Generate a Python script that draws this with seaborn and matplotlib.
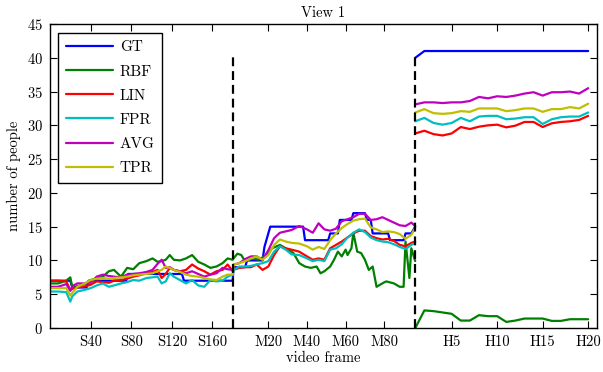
import numpy as np
import pandas as pd
import seaborn as sns
import matplotlib.pyplot as plt

# frame positions on the concatenated axis (S frames step 1, M and H are stretched)
M_OFF, M_STEP = 177.0, 1.904
H_OFF, H_STEP = 350.9, 8.966

def xs(f):
    return np.asarray(f, float)

def xm(m):
    return M_OFF + M_STEP * np.asarray(m, float)

def xh(h):
    return H_OFF + H_STEP * np.asarray(h, float)

# ---- data ----
s_frames = [1, 8, 16, 20, 22, 27, 33, 40, 46, 52, 58, 63, 70, 76, 82, 88, 95,
            101, 106, 110, 114, 118, 122, 128, 134, 140, 146, 152, 158, 164, 170, 175, 180]
m_frames = [2, 5, 8, 11, 14, 17, 20, 23, 26, 29, 32, 36, 40, 43, 46, 49, 52, 55,
            58, 61, 64, 67, 70, 73, 76, 79, 82, 85, 88, 91, 94, 96]
h_frames = list(range(1, 21))

gt_s_frames = [1, 20, 22, 36, 38, 75, 77, 130, 132, 180]
gt_s = [7, 7, 6, 6, 7, 7, 8, 8, 7, 7]
gt_m_frames = [2, 8, 9, 17, 18, 19, 21, 38, 39, 51, 52, 56, 57, 63, 64, 70, 71, 73,
               74, 82, 83, 90, 91, 94, 96]
gt_m = [9, 9, 10, 10, 12, 13, 15, 15, 13, 13, 14, 14, 16, 16, 17, 17, 16, 16,
        14, 14, 13, 13, 14, 14, 15]
gt_h = [40] + [41] * 19

rbf_s = [6.6, 6.6, 7.0, 7.5, 6.0, 6.2, 6.4, 7.1, 7.3, 7.6, 8.4, 8.6, 7.6, 8.9, 8.7, 9.6, 9.9,
         10.3, 9.8, 9.9, 10.1, 10.8, 10.1, 10.0, 10.3, 10.8, 9.8, 9.4, 8.9, 9.1, 9.6, 10.3, 10.1]
rbf_m_frames = [2, 4, 6, 8, 12, 15, 19, 22, 26, 29, 33, 36, 39, 42, 45, 47, 49, 52, 54, 56,
                58, 60, 61, 63, 64, 66, 68, 70, 72, 74, 76, 79, 81, 85, 88, 90, 91, 93, 94, 96]
rbf_m = [10.3, 11.0, 10.8, 9.9, 10.3, 10.1, 10.8, 11.8, 12.3, 11.8, 11.1, 9.6, 9.1, 8.9, 9.1,
         8.1, 8.4, 9.1, 10.1, 11.3, 10.6, 11.6, 10.8, 11.8, 14.1, 11.3, 11.1, 10.1, 8.6, 9.1,
         6.1, 6.6, 6.9, 6.6, 6.1, 6.1, 12.8, 7.4, 11.8, 9.9]
rbf_h = [0, 2.6, 2.5, 2.3, 2.1, 1.1, 1.1, 1.9, 1.75, 1.75, 0.9, 1.1, 1.4, 1.4, 1.4,
         1.05, 1.05, 1.3, 1.3, 1.3]

lin_s = [7.0, 7.0, 6.9, 5.6, 5.8, 6.0, 6.1, 6.4, 6.9, 6.8, 6.7, 7.0, 7.1, 7.3, 7.6, 7.8, 8.1,
         8.3, 8.6, 7.4, 8.0, 8.9, 8.6, 8.4, 8.6, 9.4, 8.8, 8.4, 7.9, 8.4, 8.6, 9.4, 8.4]
lin_m = [8.6, 8.9, 9.0, 9.0, 9.4, 8.6, 9.1, 10.8, 12.1, 11.8, 11.6, 11.3, 10.6, 10.1, 10.3,
         10.1, 11.8, 12.3, 12.8, 13.4, 14.0, 14.4, 14.4, 13.6, 13.3, 13.1, 13.2, 12.9, 12.3,
         12.1, 12.6, 12.8]
lin_h = [28.8, 29.2, 28.7, 28.5, 28.8, 29.75, 29.45, 29.8, 30.0, 30.1, 29.7, 29.95, 30.5,
         30.5, 29.75, 30.3, 30.5, 30.6, 30.8, 31.4]

fpr_s = [5.4, 5.4, 5.3, 3.9, 4.7, 5.4, 5.6, 5.9, 6.3, 6.6, 6.1, 6.3, 6.6, 6.8, 7.1, 7.0, 7.4,
         7.5, 7.6, 6.6, 6.9, 8.1, 7.6, 7.1, 6.6, 7.1, 6.3, 6.1, 7.1, 6.9, 7.0, 7.6, 7.9]
fpr_m = [8.6, 9.1, 9.1, 9.2, 9.4, 9.6, 9.9, 11.3, 12.1, 11.6, 10.9, 10.8, 10.3, 9.9, 10.1,
         9.9, 11.6, 11.8, 12.4, 13.4, 14.1, 14.6, 14.2, 13.4, 13.0, 12.8, 12.7, 12.4, 12.0,
         11.7, 12.3, 12.6]
fpr_h = [30.6, 31.1, 30.35, 30.1, 30.35, 31.1, 30.6, 31.3, 31.4, 31.4, 30.9, 31.0, 31.2,
         31.2, 30.2, 30.9, 31.2, 31.3, 31.3, 31.9]

avg_s = [6.1, 6.1, 6.5, 5.5, 6.2, 6.6, 6.6, 6.7, 7.6, 7.9, 7.7, 7.6, 7.5, 7.9, 8.0, 8.1, 8.3,
         8.6, 9.5, 10.1, 8.9, 9.0, 8.6, 8.4, 8.1, 8.4, 8.0, 7.6, 7.9, 8.1, 8.9, 8.7, 8.6]
avg_m = [9.4, 9.6, 10.2, 10.6, 10.6, 10.1, 11.5, 13.3, 14.1, 14.3, 14.5, 15.1, 14.6, 14.1,
         15.5, 14.6, 14.4, 14.7, 15.8, 16.1, 16.4, 16.9, 16.9, 16.0, 16.1, 16.4, 16.0, 15.6,
         15.2, 15.1, 15.6, 15.1]
avg_h = [33.1, 33.4, 33.4, 33.3, 33.4, 33.4, 33.6, 34.2, 34.0, 34.3, 34.2, 34.4, 34.7, 34.9,
         34.4, 34.9, 34.9, 35.0, 34.7, 35.5]

tpr_s = [5.9, 5.9, 5.9, 4.8, 5.2, 6.1, 6.5, 7.1, 7.3, 7.4, 7.3, 7.4, 7.5, 7.6, 7.8, 7.9, 8.0,
         8.1, 8.4, 8.6, 9.1, 8.9, 8.6, 8.3, 7.9, 7.7, 7.6, 7.4, 7.2, 7.1, 7.6, 7.9, 7.9]
tpr_m = [9.4, 9.6, 9.9, 10.3, 10.6, 10.1, 10.8, 12.3, 13.1, 12.8, 12.6, 12.5, 12.1, 11.6,
         12.0, 11.7, 13.0, 14.0, 14.8, 15.4, 15.9, 16.1, 16.2, 14.9, 14.6, 14.2, 14.3, 14.2,
         13.9, 13.2, 13.8, 14.8]
tpr_h = [31.9, 32.4, 31.8, 31.7, 31.8, 32.1, 32.0, 32.5, 32.5, 32.5, 32.1, 32.25, 32.5, 32.5,
         32.0, 32.4, 32.4, 32.7, 32.5, 33.2]

s_ticks, m_ticks, h_ticks = [40, 80, 120, 160], [20, 40, 60, 80], [5, 10, 15, 20]

# ---- style ----
sns.set_style('ticks')
plt.rcParams['font.family'] = 'cmr10'
plt.rcParams['mathtext.fontset'] = 'cm'
plt.rcParams['axes.formatter.use_mathtext'] = True
plt.rcParams['text.color'] = 'k'
plt.rcParams['axes.labelcolor'] = 'k'

fig = plt.figure(figsize=(6.03, 3.72), dpi=100)
ax = fig.add_axes([50 / 603, 1 - 328 / 372, 547 / 603, 304 / 372])

series = [
    ('GT', 'b', gt_s_frames, gt_s, gt_m_frames, gt_m, gt_h),
    ('RBF', 'g', s_frames, rbf_s, rbf_m_frames, rbf_m, rbf_h),
    ('LIN', 'r', s_frames, lin_s, m_frames, lin_m, lin_h),
    ('FPR', 'c', s_frames, fpr_s, m_frames, fpr_m, fpr_h),
    ('AVG', 'm', s_frames, avg_s, m_frames, avg_m, avg_h),
    ('TPR', 'y', s_frames, tpr_s, m_frames, tpr_m, tpr_h),
]

for name, col, sf, sv, mf, mv, hv in series:
    x = np.concatenate([xs(sf), xm(mf)])
    y = np.concatenate([sv, mv])
    sns.lineplot(x=x, y=y, sort=False, estimator=None, color=col, lw=1.6,
                 ax=ax, label=name)
    sns.lineplot(x=xh(h_frames), y=hv, sort=False, estimator=None, color=col,
                 lw=1.6, ax=ax, label='_nolegend_')

# segment separators
for xv in [xs(180), xm(96)]:
    ax.plot([xv, xv], [0, 40.2], color='k', lw=1.6, linestyle=(0, (4, 2.2)))

ax.set_xlim(0, 538.9)
ax.set_ylim(0, 45)
ticks = np.concatenate([xs(s_ticks), xm(m_ticks), xh(h_ticks)])
labels = [f'S{t}' for t in s_ticks] + [f'M{t}' for t in m_ticks] + [f'H{t}' for t in h_ticks]
ax.set_xticks(ticks)
ax.set_xticklabels(labels)
ax.set_yticks(range(0, 46, 5))
ax.tick_params(direction='in', top=True, right=True, length=5, width=0.8,
               labelsize=10.5, pad=5, colors='k')
for sp in ax.spines.values():
    sp.set_linewidth(1.0)
    sp.set_color('k')

ax.set_title('View 1', fontsize=10.5, pad=5, color='k')
ax.set_xlabel('video frame', fontsize=10.5, labelpad=2)
ax.set_ylabel('number of people', fontsize=10.5, labelpad=4)

handles, names = ax.get_legend_handles_labels()
leg = ax.legend(handles, names, loc='upper left', bbox_to_anchor=(0.0146, 0.970),
                borderaxespad=0, fancybox=False, edgecolor='k', framealpha=1,
                fontsize=11, handlelength=3.1, handletextpad=0.45, labelspacing=0.68,
                borderpad=0.5, labelcolor='k')
leg.get_frame().set_linewidth(1.0)

fig.savefig('out.png', dpi=100)
